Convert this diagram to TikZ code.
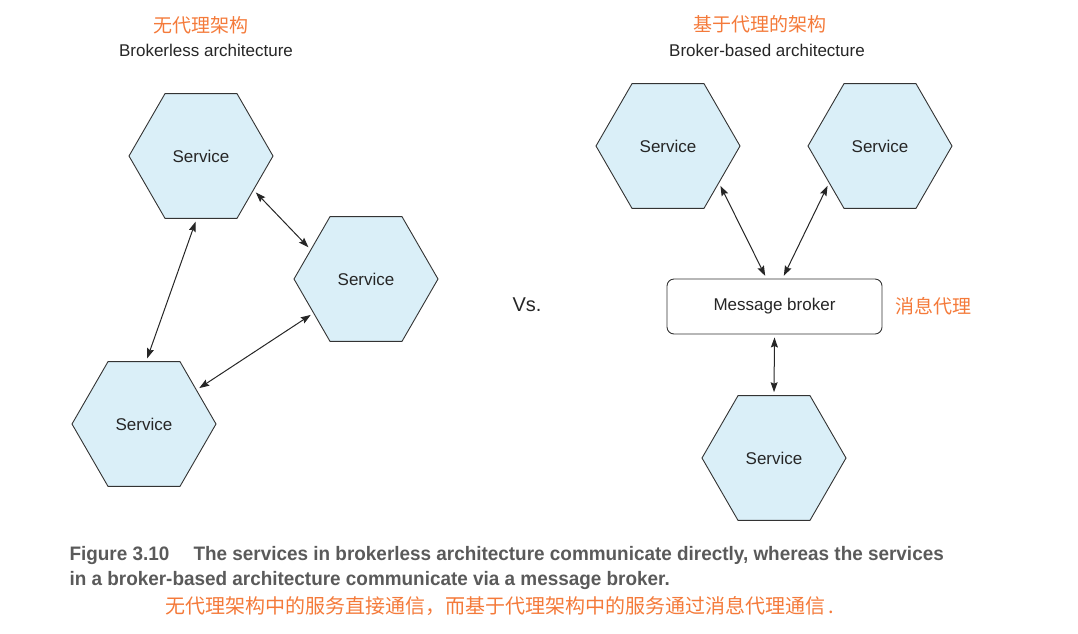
\documentclass[tikz,border=0pt]{standalone}
\usepackage{fontspec}
\setmainfont{Liberation Sans}
\newfontfamily\cjk{Noto Sans CJK SC}
\usepackage{xcolor}
\usetikzlibrary{shapes.geometric,arrows.meta}
\definecolor{hexfill}{HTML}{DAEFF8}
\definecolor{linegray}{HTML}{333333}
\definecolor{cnorange}{HTML}{F47A3A}
\definecolor{capgray}{HTML}{5A5A5A}
\tikzset{
    service-hex/.style = {draw=linegray, fill=hexfill, line width=0.9pt, regular polygon, regular polygon sides=6, minimum size=144pt, inner sep=0pt, font=\fontsize{17}{20}\selectfont, text=black!85},
    broker-box/.style = {draw=linegray, fill=white, line width=0.9pt, rectangle, rounded corners=7pt, minimum width=215pt, minimum height=55pt, font=\fontsize{17}{20}\selectfont, text=black!85},
    cn-label/.style = {text=cnorange, font=\cjk\fontsize{19}{22}\selectfont},
    en-label/.style = {text=black!85, font=\fontsize{17}{20}\selectfont},
    cap-text/.style = {anchor=west, text=capgray, font=\bfseries\fontsize{19.5}{23}\selectfont},
    link/.style = {{Stealth[length=10pt,width=7pt,inset=1.5pt]}-{Stealth[length=10pt,width=7pt,inset=1.5pt]}, line width=1pt, draw=black!85, shorten >=3pt, shorten <=3pt},
}

\begin{document}
\begin{tikzpicture}[x=1pt, y=-1pt]
\useasboundingbox (0,0) rectangle (1078,633);

% brokerless side
\node[cn-label] (left-cn) at (201,25) {无代理架构};
\node[en-label] (left-title) at (206,50) {Brokerless architecture};
\node[service-hex] (svc-a) at (201,156) {Service};
\node[service-hex] (svc-b) at (366,279) {Service};
\node[service-hex] (svc-c) at (144,424) {Service};
\draw[link] (svc-a.266) -- (svc-c.88);
\draw[link] (svc-a.-33) -- (svc-b.152);
\draw[link] (svc-b.213) -- (svc-c.33);

\node[font=\fontsize{20}{24}\selectfont, text=black!85] (versus) at (527,305) {Vs.};

% broker-based side
\node[cn-label] (right-cn) at (760,24) {基于代理的架构};
\node[en-label] (right-title) at (767,50) {Broker-based architecture};
\node[service-hex] (svc-d) at (668,146) {Service};
\node[service-hex] (svc-e) at (880,146) {Service};
\node[broker-box] (broker) at (774.5,306.5) {Message broker};
\node[cn-label, anchor=west] (broker-cn) at (892,306) {消息代理};
\node[service-hex] (svc-f) at (774,458) {Service};
\draw[link] (svc-d.-36) -- ([xshift=-8pt]broker.north);
\draw[link] (svc-e.216) -- ([xshift=8pt]broker.north);
\draw[link] (svc-f.north) -- (broker.south);

% caption
\node[cap-text] (cap-one) at (66,555)
    {\scalebox{0.97}[1]{Figure 3.10\quad\ The services in brokerless architecture communicate directly, whereas the services}};
\node[cap-text] (cap-two) at (66,580)
    {\scalebox{0.97}[1]{in a broker-based architecture communicate via a message broker.}};
\node[cn-label, anchor=west, font=\cjk\fontsize{20}{23}\selectfont] (cap-cn) at (162,606) {无代理架构中的服务直接通信，而基于代理架构中的服务通过消息代理通信\,.};
\end{tikzpicture}
\end{document}
